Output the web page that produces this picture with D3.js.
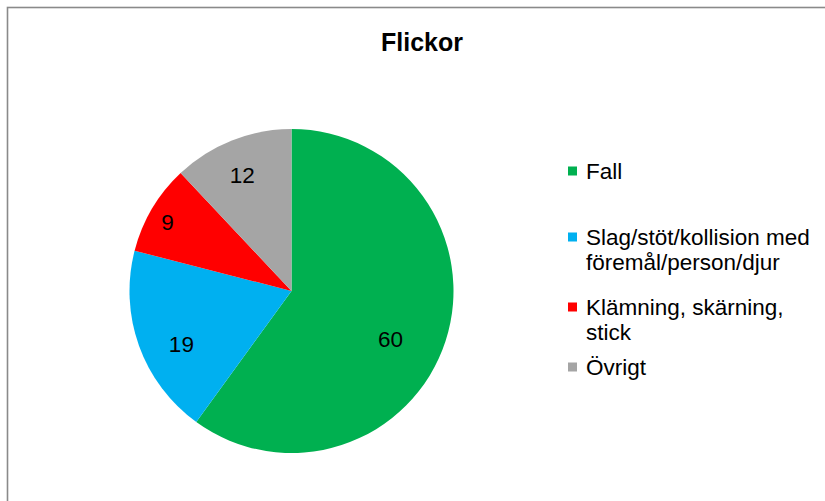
<!DOCTYPE html>
<html>
<head>
<meta charset="utf-8">
<script src="https://cdn.jsdelivr.net/npm/d3@7"></script>
<style>
html,body{margin:0;padding:0;background:#fff;}
svg{display:block;font-family:"Liberation Sans",Arial,sans-serif;}
</style>
</head>
<body>
<svg id="chart" width="825" height="501"></svg>
<script>
const title = "Flickor";
const categories = ["Fall", "Slag/stöt/kollision med föremål/person/djur", "Klämning, skärning, stick", "Övrigt"];
const legendLines = [["Fall"], ["Slag/stöt/kollision med", "föremål/person/djur"], ["Klämning, skärning,", "stick"], ["Övrigt"]];
const values = [60, 19, 9, 12];
const colors = ["#00B050", "#00B0F0", "#FF0000", "#A5A5A5"];

// layout: label placement (radius fraction, angle nudge in degrees), mimicking Excel best-fit
const labelLayout = [{k: 0.68, da: 8}, {k: 0.755, da: -6}, {k: 0.875, da: -1.6}, {k: 0.778, da: -1.4}];

const svg = d3.select("#chart");
svg.append("rect").attr("x", 7.5).attr("y", 7.5).attr("width", 830).attr("height", 520)
  .attr("fill", "#fff").attr("stroke", "#8a8a8a").attr("stroke-width", 1.6);

svg.append("text").attr("x", 422).attr("y", 51).attr("text-anchor", "middle")
  .attr("font-size", 25).attr("font-weight", "bold").attr("fill", "#000").text(title);

const cx = 291.5, cy = 291, r = 162;
const data = categories.map((c, i) => ({c, v: values[i], color: colors[i], lines: legendLines[i], lay: labelLayout[i]}));
const pie = d3.pie().sort(null).value(d => d.v);
const arcs = pie(data);
const arc = d3.arc().innerRadius(0).outerRadius(r);
const g = svg.append("g").attr("transform", `translate(${cx},${cy})`);
g.selectAll("path").data(arcs).join("path").attr("d", arc).attr("fill", d => d.data.color);
g.selectAll("text").data(arcs).join("text")
  .attr("transform", d => {
    const a = (d.startAngle + d.endAngle) / 2 + d.data.lay.da * Math.PI / 180;
    const rr = r * d.data.lay.k;
    return `translate(${rr * Math.sin(a)},${-rr * Math.cos(a)})`;
  })
  .attr("text-anchor", "middle").attr("dy", "0.35em").attr("font-size", 22.5).attr("fill", "#000")
  .text(d => d.data.v);

const legendY = [171, 237, 307, 367];
const lg = svg.append("g");
data.forEach((d, i) => {
  const y = legendY[i];
  lg.append("rect").attr("x", 568).attr("y", y - 4.5).attr("width", 9).attr("height", 9).attr("fill", d.color);
  const t = lg.append("text").attr("x", 586).attr("y", y).attr("font-size", 22.5).attr("fill", "#000");
  d.lines.forEach((ln, j) => t.append("tspan").attr("x", 586).attr("dy", j === 0 ? "0.35em" : 25).text(ln));
});
</script>
</body>
</html>
